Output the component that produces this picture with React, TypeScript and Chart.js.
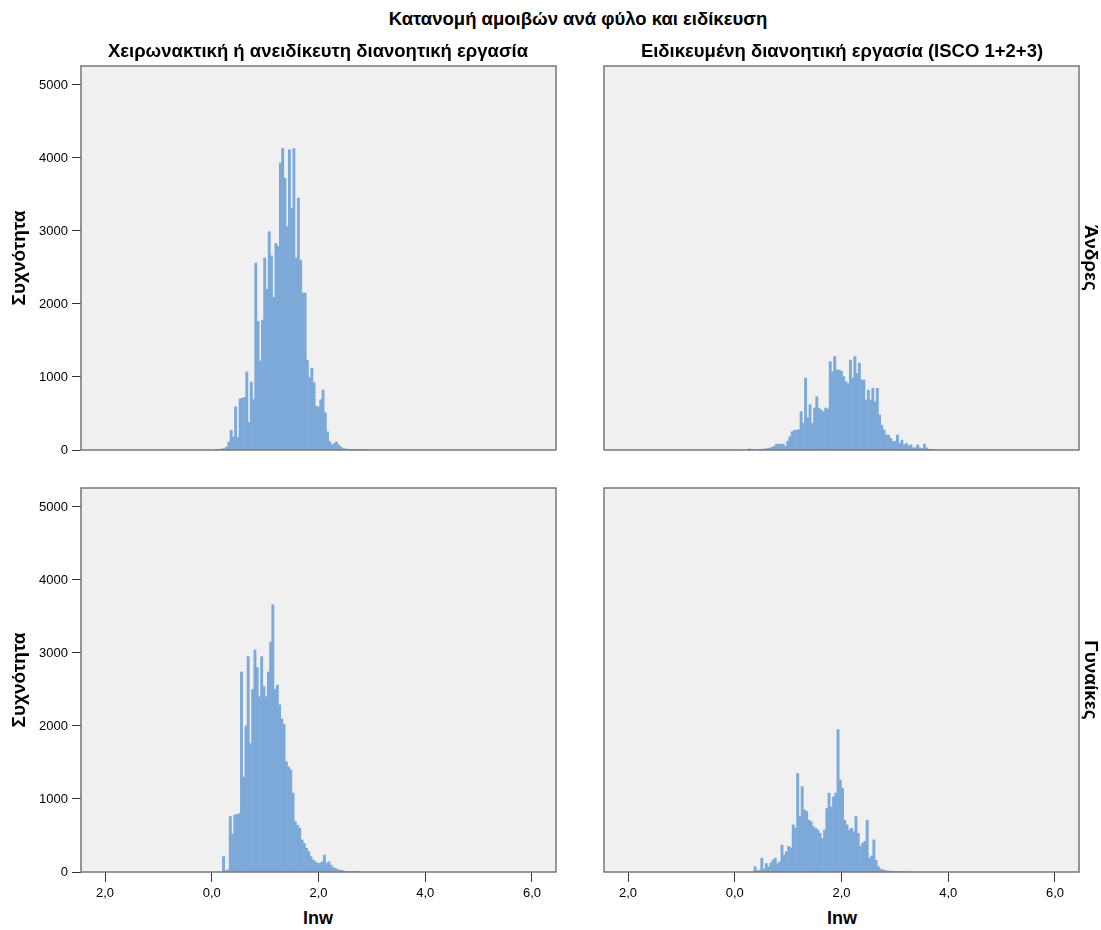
import React, { useEffect, useRef } from 'react';
import { Chart, registerables } from 'chart.js';

Chart.register(...registerables);

// ---------- data ----------
const BIN_WIDTH = 0.042;
const X_MIN = -2.45;
const X_MAX = 6.45;
const Y_MAX = 5260;
const X_TICKS = [-2, 0, 2, 4, 6];
const X_TICK_LABELS = ['2,0', '0,0', '2,0', '4,0', '6,0'];
const Y_TICKS = [0, 1000, 2000, 3000, 4000, 5000];
const Y_TICK_LABELS = ['0', '1000', '2000', '3000', '4000', '5000'];

const MAIN_TITLE = 'Κατανομή αμοιβών ανά φύλο και ειδίκευση';
const COLUMN_TITLES = ['Χειρωνακτική ή ανειδίκευτη διανοητική εργασία', 'Ειδικευμένη διανοητική εργασία (ISCO 1+2+3)'];
const ROW_TITLES = ['Άνδρες', 'Γυναίκες'];
const X_TITLE = 'lnw';
const Y_TITLE = 'Συχνότητα';

// Men, manual / unskilled
const menManualStart = 0.048;
const menManualCounts = [
  5, 8, 10, 15, 20, 40,
  110, 270, 180, 590, 170, 700, 710, 720, 1070, 380, 930, 690, 2560, 1760, 1220, 1780,
  2630, 2200, 2990, 2660, 2090, 2830, 2790, 3930, 4130, 3720, 3060, 4110, 3310, 4130,
  2630, 3450, 2600, 2150, 2150, 1230, 990, 1120, 920, 600, 590, 690, 820, 510, 250,
  115, 70, 90, 110, 70, 40, 20, 15, 10,
  8, 6, 5, 4, 3, 3, 2, 2,
];

// Men, skilled (ISCO 1+2+3)
const menSkilledStart = 0.214;
const menSkilledCounts = [
  5, 15, 5, 0, 0, 5, 10, 10, 15, 20, 25, 35, 50,
  80, 80, 80, 80, 50, 120, 180, 250, 270, 270, 280, 525, 365, 985, 440, 620, 365, 575,
  730, 575, 545, 525, 575, 560, 1210, 1070, 1280, 1095, 1095, 1080, 1005, 935, 910,
  1230, 985, 1280, 1050, 1190, 960, 960, 685, 820, 685, 845, 660, 845, 480, 340, 275,
  205, 205, 160, 115, 120, 205, 90, 135, 70, 90, 55, 70, 30, 30, 70, 30, 20, 80, 30,
  10, 8, 5, 5, 3,
];

// Women, manual / unskilled
const womenManualStart = 0.2;
const womenManualCounts = [
  210, 20, 30, 760, 520, 780, 790, 800, 2740, 1300, 2000, 2950, 1760, 2500, 3040, 2800,
  2400, 2950, 2540, 2400, 2740, 3150, 3660, 2500, 2560, 2290, 2100, 2020, 1510, 1440,
  1400, 1080, 690, 640, 600, 440, 390, 325, 280, 210, 165, 140, 120, 120, 140, 230, 120,
  140, 95, 60, 50, 30, 25, 20, 10, 10,
  6, 5, 4, 3, 2,
];

// Women, skilled (ISCO 1+2+3)
const womenSkilledStart = 0.36;
const womenSkilledCounts = [
  73, 20, 20, 190, 40, 115, 70, 120, 165, 190, 115, 140, 370, 230, 280, 350, 330, 645,
  600, 1350, 760, 1170, 850, 830, 710, 690, 620, 600, 575, 530, 460, 575, 870, 1080, 895,
  1030, 1080, 1950, 1260, 1150, 710, 645, 575, 600, 550, 760, 530, 350, 395, 420, 710,
  190, 220, 440, 160, 70, 40, 30, 20, 15, 10, 10, 5, 5,
  4, 3, 3, 2, 2,
];

// ---------- styling ----------
const FONT = "'Liberation Sans', Arial, sans-serif";
const BAR_COLOR = 'rgb(125,169,217)';
const PLOT_BG = '#f0f0f0';
const FRAME_COLOR = '#777777';

const framePlugin = {
  id: 'frame',
  beforeDraw(chart: any) {
    const { ctx, chartArea: a } = chart;
    ctx.save();
    ctx.fillStyle = PLOT_BG;
    ctx.fillRect(a.left, a.top, a.right - a.left, a.bottom - a.top);
    ctx.restore();
  },
  afterDatasetsDraw(chart: any) {
    const { ctx, chartArea: a } = chart;
    ctx.save();
    ctx.strokeStyle = FRAME_COLOR;
    ctx.lineWidth = 1.5;
    ctx.strokeRect(a.left, a.top, a.right - a.left, a.bottom - a.top);
    ctx.restore();
  },
};

type PanelProps = {
  left: number;
  top: number;
  width: number;
  height: number;
  start: number;
  counts: number[];
  showX: boolean;
  showY: boolean;
  padding: { left: number; right: number; top: number; bottom: number };
};

function Panel({ left, top, width, height, start, counts, showX, showY, padding }: PanelProps) {
  const ref = useRef<HTMLCanvasElement | null>(null);
  useEffect(() => {
    if (!ref.current) return;
    const data = counts.map((c, i) => ({ x: start + BIN_WIDTH * (i + 0.5), y: c }));
    const tickFont = { family: FONT, size: 13 };
    const xScale: any = {
      type: 'linear',
      min: X_MIN,
      max: X_MAX,
      offset: false,
      display: showX,
      afterBuildTicks: (s: any) => {
        s.ticks = X_TICKS.map((v) => ({ value: v }));
      },
      ticks: {
        callback: (_v: any, i: number) => X_TICK_LABELS[i],
        font: tickFont,
        color: '#000',
        padding: 4,
        maxRotation: 0,
        autoSkip: false,
      },
      grid: {
        display: true,
        offset: false,
        drawOnChartArea: false,
        drawTicks: true,
        tickLength: 10,
        color: '#333',
        tickColor: '#333',
      },
      border: { display: false },
    };
    if (showX) xScale.afterFit = (s: any) => { s.height = 36; };
    const yScale: any = {
      type: 'linear',
      min: 0,
      max: Y_MAX,
      display: showY,
      afterBuildTicks: (s: any) => {
        s.ticks = Y_TICKS.map((v) => ({ value: v }));
      },
      ticks: {
        callback: (_v: any, i: number) => Y_TICK_LABELS[i],
        font: tickFont,
        color: '#000',
        padding: 4,
        autoSkip: false,
      },
      grid: {
        display: true,
        offset: false,
        drawOnChartArea: false,
        drawTicks: true,
        tickLength: 9,
        color: '#333',
        tickColor: '#333',
      },
      border: { display: false },
    };
    if (showY) yScale.afterFit = (s: any) => { s.width = 81; };
    const chart = new Chart(ref.current, {
      type: 'bar',
      data: {
        datasets: [
          {
            data: data as any,
            backgroundColor: BAR_COLOR,
            borderWidth: 0,
            barPercentage: 1,
            categoryPercentage: 1,
          },
        ],
      },
      options: {
        responsive: false,
        animation: false,
        events: [],
        layout: { padding },
        plugins: { legend: { display: false }, tooltip: { enabled: false }, title: { display: false } },
        scales: { x: xScale, y: yScale },
      } as any,
      plugins: [framePlugin],
    });
    return () => chart.destroy();
  }, []);
  return (
    <canvas
      ref={ref}
      width={width}
      height={height}
      style={{ position: 'absolute', left, top, width, height }}
    />
  );
}

function Label({ text, x, y, size, bold, rotate }: { text: string; x: number; y: number; size: number; bold?: boolean; rotate?: number }) {
  return (
    <div
      style={{
        position: 'absolute',
        left: x,
        top: y,
        transform: `translate(-50%, -50%) rotate(${rotate || 0}deg)`,
        whiteSpace: 'nowrap',
        fontFamily: FONT,
        fontSize: size,
        fontWeight: bold ? 700 : 400,
        color: '#000',
        lineHeight: 1,
      }}
    >
      {text}
    </div>
  );
}

export default function App() {
  const leftPad = { left: 0, right: 6, top: 14, bottom: 14 };
  const rightPad = { left: 6, right: 6, top: 14, bottom: 14 };
  const leftPadB = { left: 0, right: 6, top: 14, bottom: 0 };
  const rightPadB = { left: 6, right: 6, top: 14, bottom: 0 };
  return (
    <div style={{ position: 'absolute', left: 0, top: 0, width: 1101, height: 930, background: '#fff', overflow: 'hidden' }}>
      <Panel left={0} top={52} width={562} height={412} start={menManualStart} counts={menManualCounts} showX={false} showY={true} padding={leftPad} />
      <Panel left={598} top={52} width={487} height={412} start={menSkilledStart} counts={menSkilledCounts} showX={false} showY={false} padding={rightPad} />
      <Panel left={0} top={474} width={562} height={434} start={womenManualStart} counts={womenManualCounts} showX={true} showY={true} padding={leftPadB} />
      <Panel left={598} top={474} width={487} height={434} start={womenSkilledStart} counts={womenSkilledCounts} showX={true} showY={false} padding={rightPadB} />

      <Label text={MAIN_TITLE} x={578} y={19} size={18.5} bold />
      <Label text={COLUMN_TITLES[0]} x={318} y={51} size={18.5} bold />
      <Label text={COLUMN_TITLES[1]} x={842} y={51} size={18.5} bold />
      <Label text={ROW_TITLES[0]} x={1091} y={258} size={19} bold rotate={90} />
      <Label text={ROW_TITLES[1]} x={1091} y={680} size={19} bold rotate={90} />
      <Label text={Y_TITLE} x={18} y={258} size={19} bold rotate={-90} />
      <Label text={Y_TITLE} x={18} y={680} size={19} bold rotate={-90} />
      <Label text={X_TITLE} x={318} y={918} size={18} bold />
      <Label text={X_TITLE} x={842} y={918} size={18} bold />
    </div>
  );
}
